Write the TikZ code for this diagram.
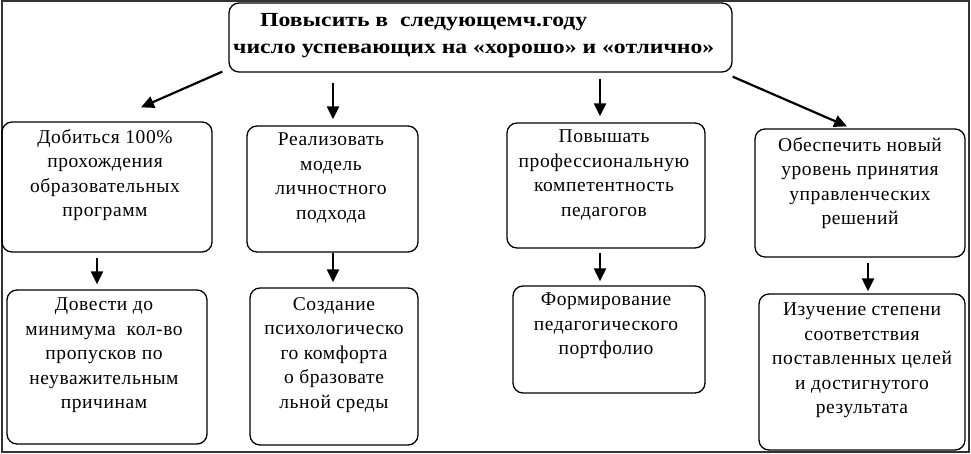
\documentclass[tikz,border=0pt]{standalone}
\usepackage{fontspec}
\setmainfont{Liberation Serif}
\usetikzlibrary{arrows.meta,calc}
\begin{document}
\begin{tikzpicture}[x=1pt,y=-1pt,
  box/.style={draw, line width=1.3pt, rounded corners=10pt, inner sep=0pt},
  txt/.style={align=center, inner sep=0pt, anchor=north,
    font=\fontsize{19.5}{24.5}\selectfont\addfontfeature{LetterSpace=3}},
  ttl/.style={align=left, inner sep=0pt, anchor=north west,
    font=\fontsize{20}{27}\selectfont\bfseries\addfontfeature{FakeStretch=1.185}},
  arr/.style={line width=2.2pt, -{Triangle[length=13pt,width=12pt]}},
  frm/.style={draw=black!80, line width=2pt, inner sep=0pt}]
\useasboundingbox (0,0) rectangle (971,454);
\node[frm, minimum width=967pt, minimum height=451pt] (frame) at (485,226.5) {};
% boxes
\node[box, minimum width=503pt, minimum height=69pt] (top) at (480.5,37.5) {};
\node[box, minimum width=210pt, minimum height=130pt] (a1) at (107,187) {};
\node[box, minimum width=171pt, minimum height=126pt] (a2) at (332.5,189) {};
\node[box, minimum width=198pt, minimum height=125pt] (a3) at (606,185.5) {};
\node[box, minimum width=210pt, minimum height=128pt] (a4) at (860,193) {};
\node[box, minimum width=200pt, minimum height=154pt] (b1) at (107,367) {};
\node[box, minimum width=168pt, minimum height=157pt] (b2) at (334,366.5) {};
\node[box, minimum width=192pt, minimum height=107pt] (b3) at (609,339.5) {};
\node[box, minimum width=206pt, minimum height=156pt] (b4) at (862,372) {};
% texts
\node[ttl] (toptxt) at (233,13) {\hspace*{27pt}Повысить в \ следующемч.году\\число успевающих на «хорошо» и «отлично»};
\node[txt] (a1t) at (105,129) {Добиться 100\%\\прохождения\\образовательных\\программ};
\node[txt] (a2t) at (331,133) {Реализовать\\модель\\личностного\\подхода};
\node[txt] (a3t) at (604,130) {Повышать\\профессиональную\\компетентность\\педагогов};
\node[txt] (a4t) at (860,137) {Обеспечить новый\\уровень принятия\\управленческих\\решений};
\node[txt] (b1t) at (104,298) {Довести до\\минимума \ кол-во\\пропусков по\\неуважительным\\причинам};
\node[txt] (b2t) at (334,297) {Создание\\психологическо\\го комфорта\\о бразовате\\льной среды};
\node[txt] (b3t) at (606,293) {Формирование\\педагогического\\портфолио};
\node[txt] (b4t) at (862,303) {Изучение степени\\соответствия\\поставленных целей\\и достигнутого\\результата};
% arrows
\draw[arr] ($(top.south west)+(-6,-1)$) -- ($(a1.north)+(34,-14)$);
\draw[arr] ($(top.south)+(-147.5,10)$) -- ($(a2.north)+(0.5,-6)$);
\draw[arr] ($(top.south)+(119.5,6)$) -- ($(a3.north)+(-6,-6)$);
\draw[arr] ($(top.south east)+(0,4)$) -- ($(a4.north)+(-13,-2)$);
\draw[arr] ($(a1.south)+(-10,5)$) -- ($(b1.north)+(-10,-5)$);
\draw[arr] ($(a2.south)+(0.5,0)$) -- ($(b2.north)+(-1,-5)$);
\draw[arr] ($(a3.south)+(-6,4)$) -- ($(b3.north)+(-9,-4)$);
\draw[arr] ($(a4.south)+(8,5)$) -- ($(b4.north)+(6,-2)$);
\end{tikzpicture}
\end{document}
